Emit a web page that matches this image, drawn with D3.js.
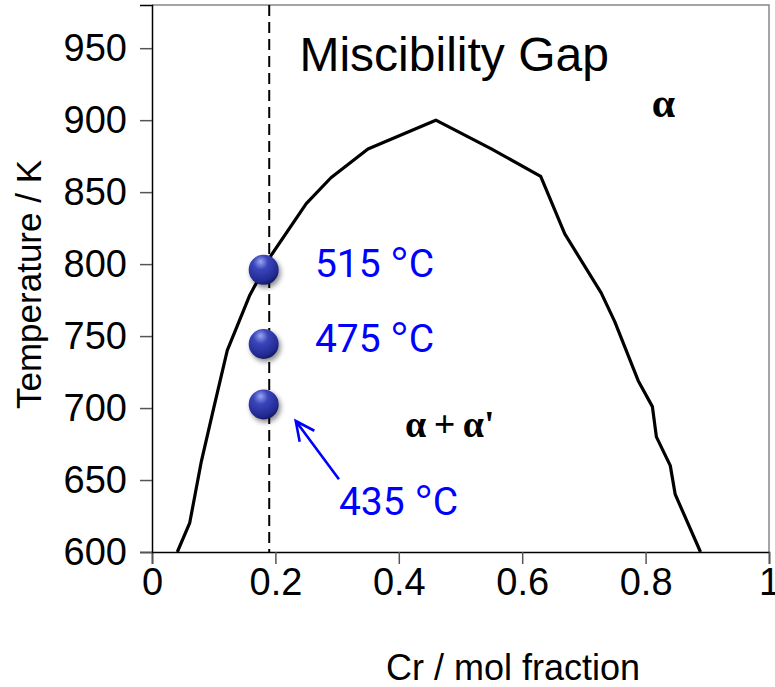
<!DOCTYPE html>
<html>
<head>
<meta charset="utf-8">
<script src="https://cdn.jsdelivr.net/npm/d3@7"></script>
<style>
  body { margin: 0; background: #fff; }
  text { font-family: "Liberation Sans", Arial, sans-serif; }
</style>
</head>
<body>
<div id="chart"></div>
<script>
var svgWidth = 775;
var svgHeight = 687;

var margin = { top: 5, right: 6, bottom: 135, left: 152 };
var width = svgWidth - margin.left - margin.right;
var height = svgHeight - margin.top - margin.bottom;

// miscibility gap boundary (Cr mol fraction, temperature K)
var gapX = [0.041, 0.061, 0.069, 0.080, 0.100, 0.122, 0.158, 0.193, 0.250, 0.290, 0.350, 0.460,
            0.550, 0.630, 0.669, 0.728, 0.750, 0.788, 0.811, 0.8175, 0.840, 0.848, 0.889];
var gapT = [600, 620, 638, 663, 700, 740, 778, 806, 842, 860, 880, 900,
            880, 861, 821, 780, 760, 719, 701, 680, 660, 640, 600];

// ageing temperatures at the alloy composition
var alloyCr = 0.19;
var pointX = [0.181, 0.181, 0.181];
var pointT = [796, 744.5, 702.5];
var pointLabels = ["515", "475", "435"];

var xTicks = [0, 0.2, 0.4, 0.6, 0.8, 1];
var yTicks = [600, 650, 700, 750, 800, 850, 900, 950];

var svg = d3.select("#chart")
  .append("svg")
  .attr("width", svgWidth)
  .attr("height", svgHeight);

var defs = svg.append("defs");
var grad = defs.append("radialGradient")
  .attr("id", "ball")
  .attr("cx", "40%").attr("cy", "30%").attr("r", "70%")
  .attr("fx", "40%").attr("fy", "22%");
grad.append("stop").attr("offset", "0%").attr("stop-color", "#9aa6f2");
grad.append("stop").attr("offset", "35%").attr("stop-color", "#3a45bb");
grad.append("stop").attr("offset", "85%").attr("stop-color", "#232a92");
grad.append("stop").attr("offset", "100%").attr("stop-color", "#161b66");

var shadow = defs.append("filter").attr("id", "shadow")
  .attr("x", "-50%").attr("y", "-50%").attr("width", "200%").attr("height", "200%");
shadow.append("feDropShadow")
  .attr("dx", 2).attr("dy", 3).attr("stdDeviation", 2.5)
  .attr("flood-color", "#000").attr("flood-opacity", 0.45);

var chartGroup = svg.append("g")
  .attr("transform", `translate(${margin.left}, ${margin.top})`);

var xScale = d3.scaleLinear().domain([0, 1]).range([0, width]);
var yScale = d3.scaleLinear().domain([600, 980]).range([height, 0]);

// frame (top and right)
chartGroup.append("path")
  .attr("d", `M0,0H${width}V${height}`)
  .attr("fill", "none")
  .attr("stroke", "#888")
  .attr("stroke-width", 1.5);

var bottomAxis = d3.axisBottom(xScale)
  .tickValues(xTicks)
  .tickFormat(d3.format("~g"))
  .tickSize(12)
  .tickPadding(4);

var leftAxis = d3.axisLeft(yScale)
  .tickValues(yTicks)
  .tickSize(12)
  .tickPadding(13);

var xAxis = chartGroup.append("g")
  .attr("transform", `translate(0, ${height})`)
  .call(bottomAxis);

var yAxis = chartGroup.append("g")
  .call(leftAxis);

[xAxis, yAxis].forEach(function(ax) {
  ax.select(".domain").attr("stroke", "#000").attr("stroke-width", 1.5);
  ax.selectAll(".tick line").attr("stroke", "#555").attr("stroke-width", 1.5);
  ax.selectAll(".tick text")
    .attr("fill", "#000")
    .style("font-family", '"Liberation Sans", Arial, sans-serif')
    .style("font-size", "38px");
});

// alloy composition
chartGroup.append("line")
  .attr("x1", xScale(alloyCr)).attr("x2", xScale(alloyCr))
  .attr("y1", 0).attr("y2", height)
  .attr("stroke", "#000")
  .attr("stroke-width", 2)
  .attr("stroke-dasharray", "11,6");

// gap boundary
var gapData = gapX.map((x, i) => ({ x: x, t: gapT[i] }));
chartGroup.append("path")
  .datum(gapData)
  .attr("fill", "none")
  .attr("stroke", "#000")
  .attr("stroke-width", 3.2)
  .attr("stroke-linejoin", "round")
  .attr("d", d3.line().x(d => xScale(d.x)).y(d => yScale(d.t)));

// arrow to the 435 point
var arrowFrom = [0.303, 650.5];
var arrowTo = [0.233, 691];
var ax0 = xScale(arrowFrom[0]), ay0 = yScale(arrowFrom[1]);
var ax1 = xScale(arrowTo[0]), ay1 = yScale(arrowTo[1]);
var ang = Math.atan2(ay1 - ay0, ax1 - ax0);
var headLen = 21, headAng = 0.45;
chartGroup.append("path")
  .attr("d", `M${ax0},${ay0}L${ax1},${ay1}` +
    `M${ax1 - headLen * Math.cos(ang - headAng)},${ay1 - headLen * Math.sin(ang - headAng)}` +
    `L${ax1},${ay1}` +
    `L${ax1 - headLen * Math.cos(ang + headAng)},${ay1 - headLen * Math.sin(ang + headAng)}`)
  .attr("fill", "none")
  .attr("stroke", "#0000ff")
  .attr("stroke-width", 2.6);

// points
chartGroup.selectAll(".ball")
  .data(pointX.map((x, i) => ({ x: x, t: pointT[i] })))
  .enter()
  .append("circle")
  .attr("class", "ball")
  .attr("cx", d => xScale(d.x))
  .attr("cy", d => yScale(d.t))
  .attr("r", 15)
  .attr("fill", "url(#ball)")
  .attr("filter", "url(#shadow)");

// point labels
var labelX = [0.264, 0.264, 0.303];
var labelT = [791, 739, 625.7];
var plabels = chartGroup.selectAll(".plabel")
  .data(pointLabels)
  .enter()
  .append("text")
  .attr("class", "plabel")
  .attr("x", (d, i) => xScale(labelX[i]))
  .attr("y", (d, i) => yScale(labelT[i]))
  .attr("fill", "#0000ff")
  .style("font-family", "Roboto, sans-serif")
  .style("font-size", "39px");
plabels.append("tspan").text(d => d + " ");
plabels.append("tspan")
  .style("font-family", '"Liberation Sans", Arial, sans-serif')
  .style("font-size", "46px")
  .attr("dy", 3)
  .text("°");
plabels.append("tspan").attr("dy", -3).text("C");

// region labels
chartGroup.append("text")
  .attr("x", xScale(0.239))
  .attr("y", yScale(934))
  .style("font-size", "48px")
  .text("Miscibility Gap");

chartGroup.append("text")
  .attr("x", xScale(0.81))
  .attr("y", yScale(902))
  .style("font-family", '"Liberation Serif", serif')
  .style("font-weight", "bold")
  .style("font-size", "42px")
  .text("α");

chartGroup.append("text")
  .attr("x", xScale(0.41))
  .attr("y", yScale(680))
  .style("font-family", '"Liberation Serif", serif')
  .style("font-weight", "bold")
  .style("font-size", "38px")
  .style("word-spacing", "-2px")
  .text("α + α'");

// axis titles
svg.append("text")
  .attr("transform", `translate(41, ${margin.top + height / 2 + 6}) rotate(-90)`)
  .attr("text-anchor", "middle")
  .style("font-size", "35px")
  .text("Temperature / K");

svg.append("text")
  .attr("x", 513)
  .attr("y", 680)
  .attr("text-anchor", "middle")
  .style("font-size", "36px")
  .text("Cr / mol fraction");
</script>
</body>
</html>
